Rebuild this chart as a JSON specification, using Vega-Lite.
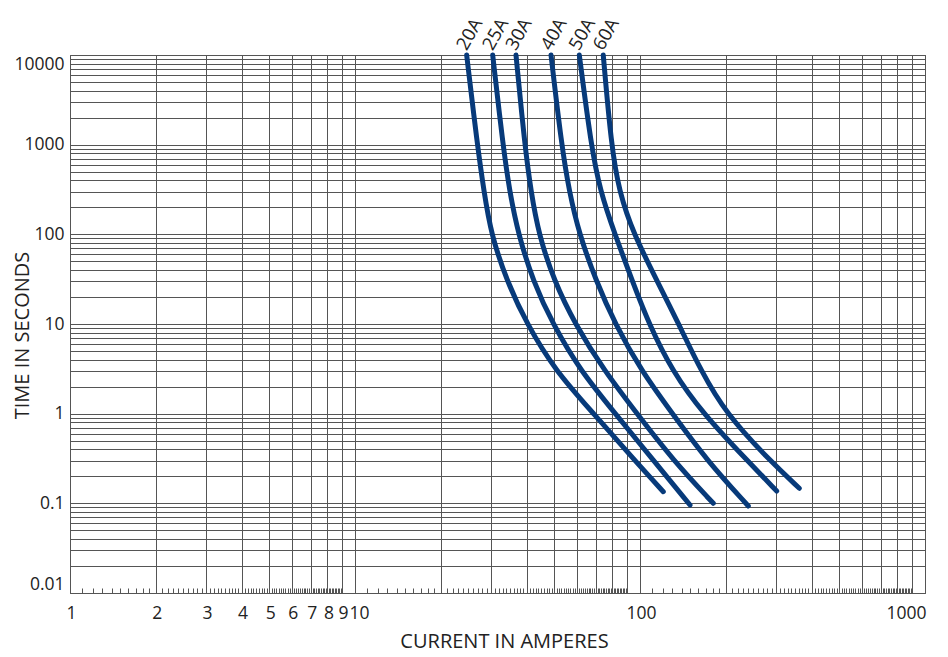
{
  "$schema": "https://vega.github.io/schema/vega-lite/v6.json",
  "width": 855,
  "height": 538,
  "autosize": {"type": "none"},
  "padding": {"left": 70, "top": 55, "right": 23, "bottom": 64},
  "background": "white",
  "config": {
    "view": {"stroke": "#444", "strokeWidth": 1},
    "font": "Open Sans"
  },
  "data": {
    "values": [
      {"fuse": "20A", "a": 24.65, "t": 10000}, {"fuse": "20A", "a": 26.86, "t": 1000}, {"fuse": "20A", "a": 28.35, "t": 300}, {"fuse": "20A", "a": 30.03, "t": 100}, {"fuse": "20A", "a": 34.12, "t": 30}, {"fuse": "20A", "a": 40.07, "t": 10}, {"fuse": "20A", "a": 50.49, "t": 3}, {"fuse": "20A", "a": 68.8, "t": 1}, {"fuse": "20A", "a": 95.9, "t": 0.3}, {"fuse": "20A", "a": 120.7, "t": 0.1348},
      {"fuse": "25A", "a": 30.42, "t": 10000}, {"fuse": "25A", "a": 33.03, "t": 1000}, {"fuse": "25A", "a": 34.87, "t": 300}, {"fuse": "25A", "a": 37.41, "t": 100}, {"fuse": "25A", "a": 42.16, "t": 30}, {"fuse": "25A", "a": 49.4, "t": 10}, {"fuse": "25A", "a": 61.83, "t": 3}, {"fuse": "25A", "a": 81.98, "t": 1}, {"fuse": "25A", "a": 111.6, "t": 0.3}, {"fuse": "25A", "a": 149.8, "t": 0.0958},
      {"fuse": "30A", "a": 36.72, "t": 10000}, {"fuse": "30A", "a": 39.39, "t": 1000}, {"fuse": "30A", "a": 41.45, "t": 300}, {"fuse": "30A", "a": 44.11, "t": 100}, {"fuse": "30A", "a": 50.0, "t": 30}, {"fuse": "30A", "a": 59.14, "t": 10}, {"fuse": "30A", "a": 74.96, "t": 3}, {"fuse": "30A", "a": 97.6, "t": 1}, {"fuse": "30A", "a": 130.9, "t": 0.3}, {"fuse": "30A", "a": 180.8, "t": 0.1001},
      {"fuse": "40A", "a": 48.73, "t": 10000}, {"fuse": "40A", "a": 53.04, "t": 1000}, {"fuse": "40A", "a": 56.44, "t": 300}, {"fuse": "40A", "a": 61.23, "t": 100}, {"fuse": "40A", "a": 70.2, "t": 30}, {"fuse": "40A", "a": 81.72, "t": 10}, {"fuse": "40A", "a": 101.1, "t": 3}, {"fuse": "40A", "a": 129.9, "t": 1}, {"fuse": "40A", "a": 171.8, "t": 0.3}, {"fuse": "40A", "a": 239.9, "t": 0.0934},
      {"fuse": "50A", "a": 61.24, "t": 10000}, {"fuse": "50A", "a": 67.3, "t": 1000}, {"fuse": "50A", "a": 72.52, "t": 300}, {"fuse": "50A", "a": 81.65, "t": 100}, {"fuse": "50A", "a": 94.11, "t": 30}, {"fuse": "50A", "a": 107.5, "t": 10}, {"fuse": "50A", "a": 129.7, "t": 3}, {"fuse": "50A", "a": 166.4, "t": 1}, {"fuse": "50A", "a": 237.9, "t": 0.3}, {"fuse": "50A", "a": 301.7, "t": 0.1373},
      {"fuse": "60A", "a": 74.31, "t": 10000}, {"fuse": "60A", "a": 79.24, "t": 1000}, {"fuse": "60A", "a": 84.41, "t": 300}, {"fuse": "60A", "a": 95.03, "t": 100}, {"fuse": "60A", "a": 115.0, "t": 30}, {"fuse": "60A", "a": 136.7, "t": 10}, {"fuse": "60A", "a": 163.7, "t": 3}, {"fuse": "60A", "a": 200.3, "t": 1}, {"fuse": "60A", "a": 285.1, "t": 0.3}, {"fuse": "60A", "a": 362.2, "t": 0.1472}
    ]
  },
  "encoding": {
    "x": {
      "field": "a",
      "type": "quantitative",
      "scale": {"type": "log", "domain": [1, 1000], "nice": false},
      "axis": {
        "title": "CURRENT IN AMPERES",
        "values": [1, 1.1, 1.2, 1.3, 1.4, 1.5, 1.6, 1.7, 1.8, 1.9, 2, 2.1, 2.2, 2.3, 2.4, 2.5, 2.6, 2.7, 2.8, 2.9, 3, 3.1, 3.2, 3.3, 3.4, 3.5, 3.6, 3.7, 3.8, 3.9, 4, 4.1, 4.2, 4.3, 4.4, 4.5, 4.6, 4.7, 4.8, 4.9, 5, 5.1, 5.2, 5.3, 5.4, 5.5, 5.6, 5.7, 5.8, 5.9, 6, 6.1, 6.2, 6.3, 6.4, 6.5, 6.6, 6.7, 6.8, 6.9, 7, 7.1, 7.2, 7.3, 7.4, 7.5, 7.6, 7.7, 7.8, 7.9, 8, 8.1, 8.2, 8.3, 8.4, 8.5, 8.6, 8.7, 8.8, 8.9, 9, 10, 11, 12, 13, 14, 15, 16, 17, 18, 19, 20, 21, 22, 23, 24, 25, 26, 27, 28, 29, 30, 31, 32, 33, 34, 35, 36, 37, 38, 39, 40, 41, 42, 43, 44, 45, 46, 47, 48, 49, 50, 51, 52, 53, 54, 55, 56, 57, 58, 59, 60, 61, 62, 63, 64, 65, 66, 67, 68, 69, 70, 71, 72, 73, 74, 75, 76, 77, 78, 79, 80, 81, 82, 83, 84, 85, 86, 87, 88, 89, 90, 100, 110, 120, 130, 140, 150, 160, 170, 180, 190, 200, 210, 220, 230, 240, 250, 260, 270, 280, 290, 300, 310, 320, 330, 340, 350, 360, 370, 380, 390, 400, 410, 420, 430, 440, 450, 460, 470, 480, 490, 500, 510, 520, 530, 540, 550, 560, 570, 580, 590, 600, 610, 620, 630, 640, 650, 660, 670, 680, 690, 700, 710, 720, 730, 740, 750, 760, 770, 780, 790, 800, 810, 820, 830, 840, 850, 860, 870, 880, 890, 900, 1000],
        "format": "~g",
        "labelExpr": "indexof([1, 2, 3, 4, 5, 6, 7, 8, 9, 10, 100, 1000], datum.value) >= 0 ? datum.label : ''",
        "labelOverlap": false,
        "labelFont": "Open Sans",
        "labelFontSize": 17.5,
        "labelColor": "#222",
        "labelPadding": 16,
        "labelAlign": {"condition": {"test": "datum.value == 1000", "value": "right"}, "value": "center"},
        "labelOffset": {"condition": {"test": "datum.value == 10", "value": 4}, "value": 1},
        "ticks": true,
        "tickSize": -5,
        "tickColor": "#555",
        "tickWidth": 1,
        "tickOpacity": {"condition": {"test": "indexof([1, 2, 3, 4, 5, 6, 7, 8, 9, 10, 20, 30, 40, 50, 60, 70, 80, 90, 100, 200, 300, 400, 500, 600, 700, 800, 900, 1000], datum.value) < 0", "value": 1}, "value": 0},
        "domain": false,
        "grid": true,
        "gridColor": "#555",
        "gridWidth": 1,
        "gridOpacity": {"condition": {"test": "indexof([1, 2, 3, 4, 5, 6, 7, 8, 9, 10, 20, 30, 40, 50, 60, 70, 80, 90, 100, 200, 300, 400, 500, 600, 700, 800, 900, 1000], datum.value) >= 0", "value": 1}, "value": 0},
        "titleFont": "Open Sans",
        "titleFontSize": 20,
        "titleFontWeight": "normal",
        "titleColor": "#222",
        "titlePadding": 10,
        "titleX": 434
      }
    },
    "y": {
      "field": "t",
      "type": "quantitative",
      "scale": {"type": "log", "domain": [0.01, 10000], "nice": false},
      "axis": {
        "title": "TIME IN SECONDS",
        "values": [0.01, 0.02, 0.03, 0.04, 0.05, 0.06, 0.07, 0.08, 0.09, 0.1, 0.2, 0.3, 0.4, 0.5, 0.6, 0.7, 0.8, 0.9, 1, 2, 3, 4, 5, 6, 7, 8, 9, 10, 20, 30, 40, 50, 60, 70, 80, 90, 100, 200, 300, 400, 500, 600, 700, 800, 900, 1000, 2000, 3000, 4000, 5000, 6000, 7000, 8000, 9000, 10000],
        "format": "~g",
        "labelExpr": "indexof([0.01, 0.1, 1, 10, 100, 1000, 10000], datum.value) >= 0 ? datum.label : ''",
        "labelOverlap": false,
        "labelFlush": true,
        "labelFont": "Open Sans",
        "labelFontSize": 17.5,
        "labelColor": "#222",
        "labelPadding": 6,
        "ticks": false,
        "domain": false,
        "grid": true,
        "gridColor": "#555",
        "gridWidth": 1,
        "gridOpacity": 1,
        "titleFont": "Open Sans",
        "titleFontSize": 20,
        "titleFontWeight": "normal",
        "titleColor": "#222",
        "titleX": -42,
        "titleY": 280,
        "titleBaseline": "alphabetic"
      }
    }
  },
  "layer": [
    {
      "mark": {"type": "line", "color": "#073a7a", "strokeWidth": 5, "strokeCap": "round", "strokeJoin": "round", "interpolate": "basis"},
      "encoding": {
        "detail": {"field": "fuse"}
      }
    },
    {
      "transform": [{"filter": "datum.t == 10000"}],
      "mark": {"type": "text", "angle": -60, "align": "left", "baseline": "middle", "dx": 3, "dy": -8, "font": "Open Sans", "fontSize": 18.5, "color": "#222"},
      "encoding": {
        "text": {"field": "fuse"}
      }
    }
  ]
}
